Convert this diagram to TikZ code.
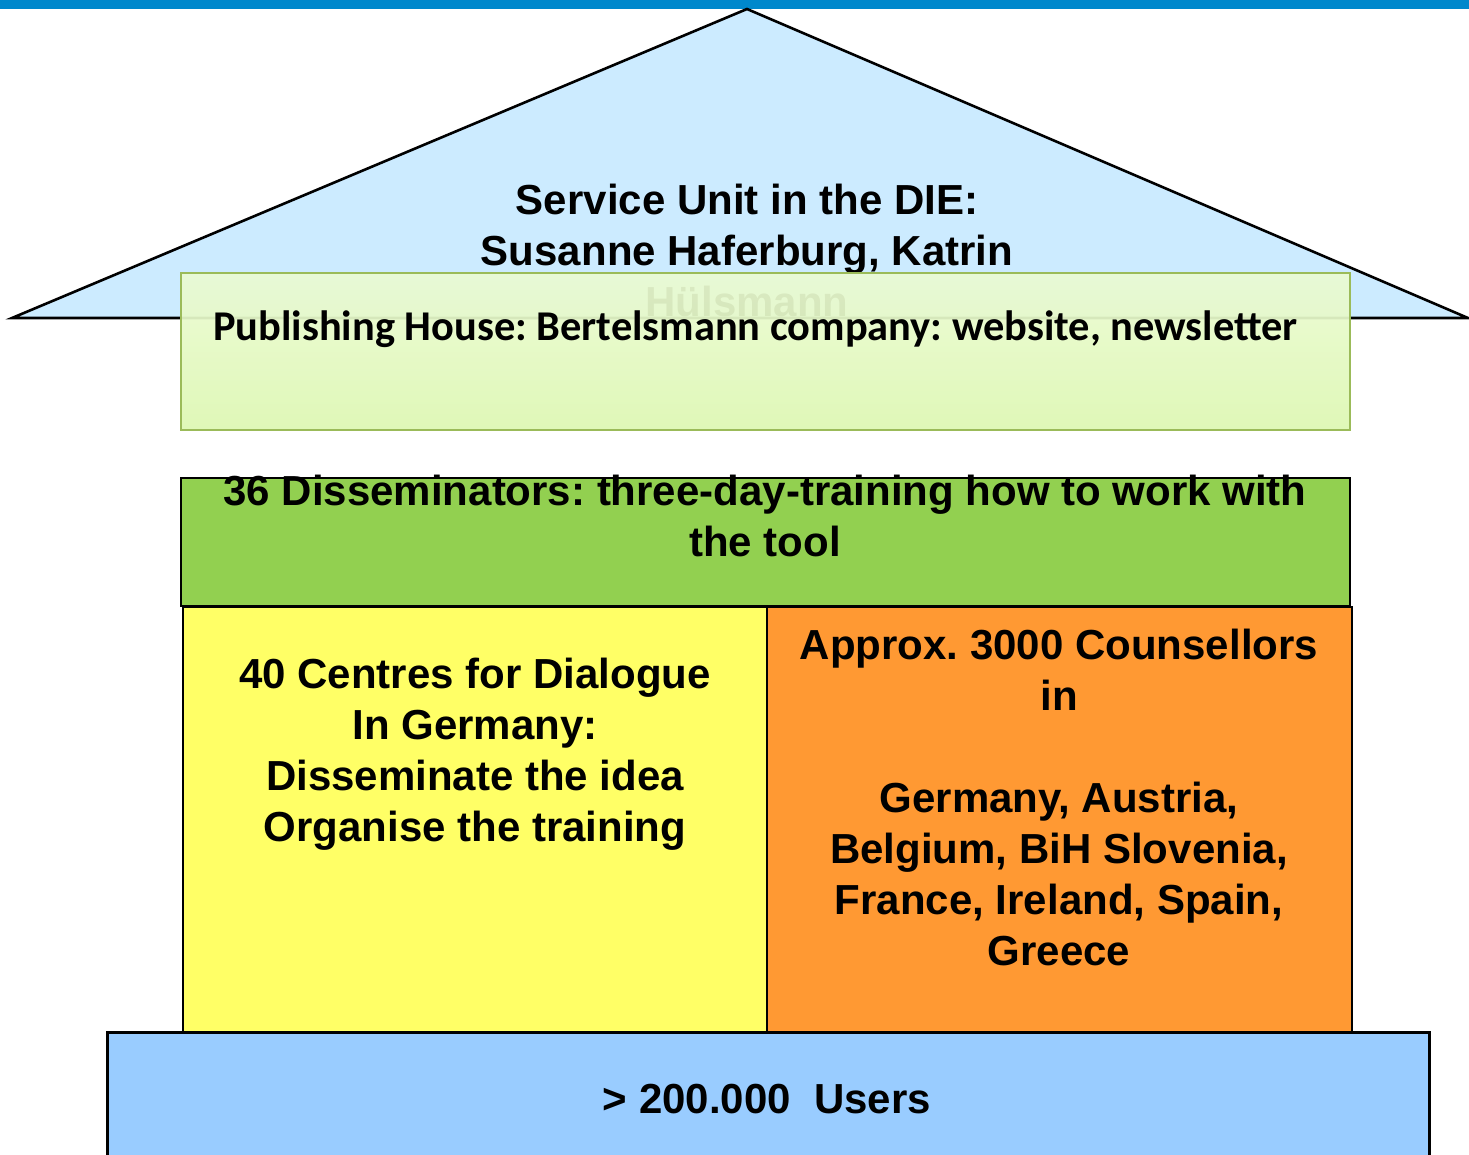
\documentclass[tikz,border=0pt]{standalone}
\usepackage{fontspec}
\setmainfont{Liberation Sans}
\newfontfamily\calib{Carlito}
\definecolor{topbar}{HTML}{0088CC}
\definecolor{roofblue}{HTML}{CCEBFF}
\definecolor{pubtop}{HTML}{EBFBD3}
\definecolor{pubbot}{HTML}{DDF8B2}
\definecolor{pubedge}{HTML}{9BBB59}
\definecolor{dgreen}{HTML}{92D050}
\definecolor{yell}{HTML}{FFFF66}
\definecolor{orng}{HTML}{FF9933}
\definecolor{lblue}{HTML}{99CCFF}
\begin{document}
\frenchspacing
\begin{tikzpicture}[x=1pt,y=-1pt,
  lbl/.style={font=\bfseries\fontsize{42}{51}\selectfont, align=center, inner sep=0pt},
  publbl/.style={font=\calib\bfseries\fontsize{42.4}{50}\selectfont, inner sep=0pt},
  boxline/.style={draw=black, line width=2.2pt}]
\useasboundingbox (0,0) rectangle (1469,1154);
% top bar
\fill[topbar] (0,0) rectangle (1469,9);
% roof
\draw[fill=roofblue, line width=2.6pt, line join=miter] (12,318) -- (747,9) -- (1468,318) -- cycle;
\node[lbl] (roofText) at (747,250) {Service Unit in the DIE:\\Susanne Haferburg, Katrin\\Hülsmann};
% publishing box
\path[top color=pubtop, bottom color=pubbot, fill opacity=0.93] (181,273) rectangle (1350,430);
\draw[pubedge, line width=1.8pt] (181,273) rectangle (1350,430);
\node[publbl] (pubText) at (755.5,329) {Publishing House: Bertelsmann company: website, newsletter};
% disseminators
\draw[boxline, line width=2.6pt, fill=dgreen] (181,478) rectangle (1350,606);
\node[lbl] (dissText) at (765,515.5) {36 Disseminators: three-day-training how to work with\\the tool};
% yellow
\draw[boxline, fill=yell] (183,607) rectangle (767,1032);
\node[lbl] (yellText) at (475,754) {40 Centres for Dialogue\\In Germany:\\Disseminate the idea\\Organise the training};
% orange
\draw[boxline, fill=orng] (767,607) rectangle (1352,1032);
\node[lbl] (orngText) at (1059,797) {Approx. 3000 Counsellors\\in\\\mbox{}\\Germany, Austria,\\Belgium, BiH Slovenia,\\France, Ireland, Spain,\\Greece};
% users
\draw[draw=black, line width=3pt, fill=lblue] (107,1032) rectangle (1429,1170);
\node[lbl] (userText) at (767,1099) {> 200.000~\ Users};
\end{tikzpicture}
\end{document}
